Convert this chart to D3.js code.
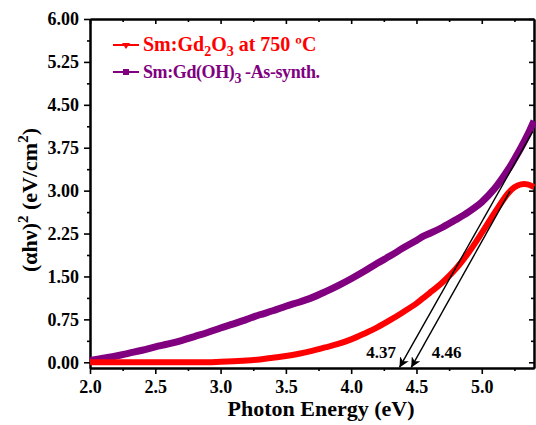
<!DOCTYPE html>
<html>
<head>
<meta charset="utf-8">
<script src="https://cdn.jsdelivr.net/npm/d3@7"></script>
<style>
  body { margin: 0; background: #fff; }
</style>
</head>
<body>
<svg width="536" height="425"></svg>
<script>
// photon energy (eV)
var energy = [2.0, 2.1, 2.2, 2.3, 2.4, 2.5, 2.6, 2.7, 2.8, 2.9, 3.0, 3.1, 3.2, 3.3, 3.4, 3.5,
              3.6, 3.7, 3.8, 3.9, 4.0, 4.1, 4.2, 4.3, 4.4, 4.5, 4.55, 4.6, 4.7, 4.8, 4.9, 5.0,
              5.1, 5.2, 5.25, 5.3, 5.35, 5.4];
// Sm:Gd2O3 at 750 C
var calcined = [0.0, 0.0, 0.0, 0.0, 0.0, 0.0, 0.0, 0.0, 0.0, 0.0, 0.01, 0.02, 0.03, 0.05, 0.08, 0.11,
                0.15, 0.20, 0.26, 0.32, 0.40, 0.50, 0.61, 0.74, 0.88, 1.03, 1.12, 1.21, 1.40, 1.63, 1.92, 2.26,
                2.62, 2.95, 3.06, 3.11, 3.11, 3.06];
// Sm:Gd(OH)3 as synthesised
var synth = [0.03, 0.07, 0.11, 0.16, 0.21, 0.27, 0.32, 0.38, 0.45, 0.52, 0.60, 0.67, 0.75, 0.83, 0.90, 0.98,
             1.05, 1.13, 1.23, 1.34, 1.46, 1.59, 1.73, 1.86, 2.00, 2.13, 2.20, 2.25, 2.36, 2.49, 2.63, 2.80,
             3.04, 3.36, 3.55, 3.75, 3.97, 4.22];

var xTicks = [2.0, 2.5, 3.0, 3.5, 4.0, 4.5, 5.0];
var yTicks = [0, 0.75, 1.5, 2.25, 3.0, 3.75, 4.5, 5.25, 6.0];
// band-gap extrapolation lines: [x1, y1, x2 (arrow tip), label, label x]
var fits = [
  {x1: 5.39, y1: 4.03, x2: 4.37, label: "4.37", lx: 4.23},
  {x1: 5.216, y1: 2.99, x2: 4.46, label: "4.46", lx: 4.73}
];

var FONT = "'Liberation Serif'";

var svg = d3.select("svg");
var margin = {left: 90, right: 2, top: 19, bottom: 57};
var W = 536, H = 425;

var x = d3.scaleLinear().domain([2.0, 5.4]).range([margin.left, W - margin.right]);
var y = d3.scaleLinear().domain([-0.1, 6.0]).range([H - margin.bottom, margin.top]);

var xMinor = d3.range(2.0, 5.41, 0.25).filter(v => xTicks.indexOf(+v.toFixed(2)) < 0);
var yMinor = d3.range(0.375, 6.0, 0.75);

// axes
svg.append("g").attr("transform", "translate(0," + y.range()[0] + ")")
  .call(d3.axisBottom(x).tickValues(xTicks).tickFormat(d3.format(".1f")).tickSize(6).tickSizeOuter(0).tickPadding(6));
svg.append("g").attr("transform", "translate(0," + y.range()[0] + ")")
  .call(d3.axisBottom(x).tickValues(xMinor).tickFormat("").tickSize(3).tickSizeOuter(0));
svg.append("g").attr("transform", "translate(0," + y.range()[1] + ")")
  .call(d3.axisTop(x).tickValues(xTicks).tickFormat("").tickSize(-5).tickSizeOuter(0));
svg.append("g").attr("transform", "translate(0," + y.range()[1] + ")")
  .call(d3.axisTop(x).tickValues(xMinor).tickFormat("").tickSize(-3).tickSizeOuter(0));

svg.append("g").attr("transform", "translate(" + x.range()[0] + ",0)")
  .call(d3.axisLeft(y).tickValues(yTicks).tickFormat(d3.format(".2f")).tickSize(6).tickSizeOuter(0).tickPadding(5));
svg.append("g").attr("transform", "translate(" + x.range()[0] + ",0)")
  .call(d3.axisLeft(y).tickValues(yMinor).tickFormat("").tickSize(3).tickSizeOuter(0));
svg.append("g").attr("transform", "translate(" + x.range()[1] + ",0)")
  .call(d3.axisRight(y).tickValues(yTicks).tickFormat("").tickSize(-5).tickSizeOuter(0));
svg.append("g").attr("transform", "translate(" + x.range()[1] + ",0)")
  .call(d3.axisRight(y).tickValues(yMinor).tickFormat("").tickSize(-3).tickSizeOuter(0));

svg.selectAll(".domain").attr("stroke", "#000").attr("stroke-width", 2);
svg.selectAll(".tick line").attr("stroke", "#000").attr("stroke-width", 1.6);
svg.selectAll(".tick text").attr("fill", "#000")
  .style("font-family", FONT).style("font-weight", "bold").style("font-size", "18px");

// curves
var line = d3.line().curve(d3.curveCatmullRom.alpha(0.5));
function pts(vals) { return energy.map((e, i) => [x(e), y(vals[i])]); }

svg.append("path").attr("d", line(pts(synth)))
  .attr("fill", "none").attr("stroke", "#800080").attr("stroke-width", 7);
svg.append("path").attr("d", line(pts(calcined)))
  .attr("fill", "none").attr("stroke", "#ff0000").attr("stroke-width", 6);

// extrapolation arrows
svg.append("defs").append("marker")
  .attr("id", "arr").attr("viewBox", "0 0 10 10").attr("refX", 10).attr("refY", 5)
  .attr("markerWidth", 10).attr("markerHeight", 10).attr("markerUnits", "userSpaceOnUse")
  .attr("orient", "auto")
  .append("path").attr("d", "M0,0 L10,5 L0,10 L3,5 Z").attr("fill", "#000");

function label(sel, size) {
  return sel.style("font-family", FONT).style("font-weight", "bold").style("font-size", size + "px");
}

fits.forEach(function(f) {
  svg.append("line")
    .attr("x1", x(f.x1)).attr("y1", y(f.y1))
    .attr("x2", x(f.x2)).attr("y2", y(-0.09))
    .attr("stroke", "#000").attr("stroke-width", 1.4)
    .attr("marker-end", "url(#arr)");
  label(svg.append("text"), 17).attr("x", x(f.lx)).attr("y", y(0.07))
    .attr("text-anchor", "middle").text(f.label);
});

// legend
var legend = [
  {color: "#ff0000", shape: "tri", parts: [["Sm:Gd", 0], ["2", 1], ["O", 0], ["3", 1], [" at 750 ºC", 0]], y: 45, size: 20, ls: 0},
  {color: "#800080", shape: "sq", parts: [["Sm:Gd(OH)", 0], ["3", 1], [" -As-synth.", 0]], y: 72, size: 18, ls: -0.4}
];
legend.forEach(function(l) {
  svg.append("line").attr("x1", 113).attr("x2", 139).attr("y1", l.y).attr("y2", l.y)
    .attr("stroke", l.color).attr("stroke-width", 2);
  if (l.shape === "tri") {
    svg.append("path").attr("d", "M122," + (l.y - 2) + " L130," + (l.y - 2) + " L126," + (l.y + 4) + " Z").attr("fill", l.color);
  } else {
    svg.append("rect").attr("x", 123).attr("y", l.y - 3).attr("width", 6).attr("height", 6).attr("fill", l.color);
  }
  var t = label(svg.append("text"), l.size).attr("x", 143).attr("y", l.y + 6).attr("fill", l.color)
    .style("letter-spacing", l.ls + "px");
  l.parts.forEach(function(p, i) {
    var ts = t.append("tspan").text(p[0]);
    if (p[1]) ts.style("font-size", "14px").attr("dy", 5);
    else if (i > 0) ts.attr("dy", -5);
  });
});

// axis titles
label(svg.append("text"), 22).attr("x", (x.range()[0] + x.range()[1]) / 2 + 9).attr("y", 416)
  .attr("text-anchor", "middle").text("Photon Energy (eV)");

var yt = label(svg.append("text"), 22).attr("transform", "translate(37,200) rotate(-90)")
  .attr("text-anchor", "middle");
yt.append("tspan").text("(αhν)");
yt.append("tspan").style("font-size", "15px").attr("dy", -9).text("2");
yt.append("tspan").attr("dy", 9).text(" (eV/cm");
yt.append("tspan").style("font-size", "15px").attr("dy", -9).text("2");
yt.append("tspan").attr("dy", 9).text(")");
</script>
</body>
</html>
